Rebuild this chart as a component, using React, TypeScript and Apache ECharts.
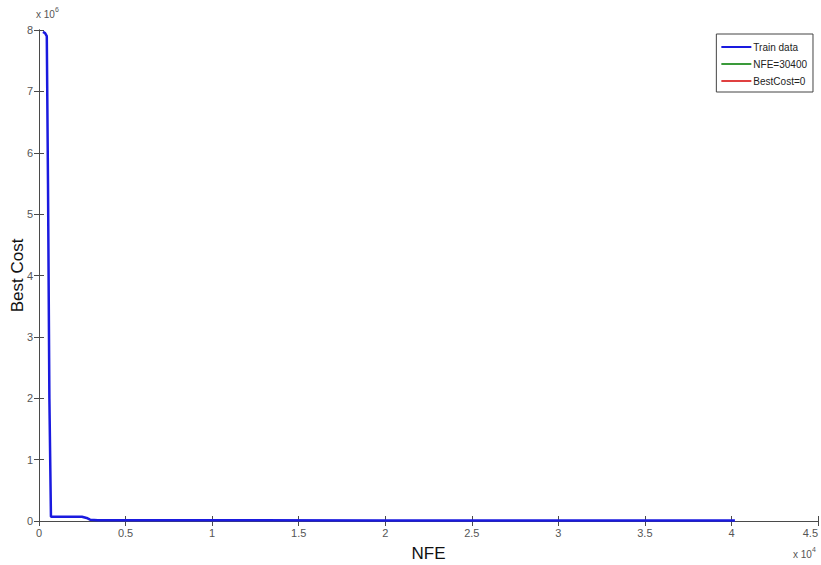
import React, { useEffect, useRef } from "react";
import * as echarts from "echarts";

// Convergence of the best cost against the number of function evaluations
const nfe = [230, 350, 450, 520, 600, 690, 1500, 2480, 2750, 2950, 3400, 5000, 10000, 20000, 30000, 40200];
const bestCost = [7.97e6, 7.95e6, 7.9e6, 5.5e6, 2.0e6, 70000, 70000, 70000, 50000, 22000, 12000, 12000, 11000, 10000, 10000, 10000];

// Reference markers shown in the legend
const nfeMarker = [[30400, 0]];
const bestCostMarker = [[30400, 0]];

const xTicks = [0, 0.5, 1, 1.5, 2, 2.5, 3, 3.5, 4, 4.5];
const yTicks = [0, 1, 2, 3, 4, 5, 6, 7, 8];

const axisColor = "#4a4a4a";
const labelColor = "#555555";
const font = "'Liberation Sans', Arial, sans-serif";

export default function App() {
  const ref = useRef<HTMLDivElement>(null);

  useEffect(() => {
    document.body.style.margin = "0";
    if (!ref.current) return;
    const chart = echarts.init(ref.current, undefined, { renderer: "svg" });

    const xMax = xTicks[xTicks.length - 1] * 1e4;
    const yMax = yTicks[yTicks.length - 1] * 1e6;

    const baseAxis = {
      type: "value" as const,
      min: 0,
      axisLine: { show: true, lineStyle: { color: axisColor, width: 1 } },
      axisTick: { show: true, inside: true, length: 5, lineStyle: { color: axisColor } },
      splitLine: { show: false },
    };

    chart.setOption({
      animation: false,
      backgroundColor: "#ffffff",
      grid: { left: 39, right: 3, top: 30, bottom: 44, containLabel: false, outerBoundsMode: "none" },
      xAxis: [
        {
          ...baseAxis,
          position: "bottom",
          max: xMax,
          interval: 5000,
          axisLabel: {
            color: labelColor,
            fontFamily: font,
            fontSize: 11,
            margin: 6,
            alignMaxLabel: "right",
            formatter: (v: number) => String(v / 1e4),
          },
          name: "NFE",
          nameLocation: "middle",
          nameGap: 24,
          nameTextStyle: { color: "#111", fontFamily: font, fontSize: 17 },
        },
        {
          ...baseAxis,
          position: "top",
          max: xMax,
          interval: 5000,
          axisLabel: { show: false },
        },
      ],
      yAxis: [
        {
          ...baseAxis,
          position: "left",
          max: yMax,
          interval: 1e6,
          axisLabel: {
            color: labelColor,
            fontFamily: font,
            fontSize: 11,
            margin: 6,
            formatter: (v: number) => String(v / 1e6),
          },
          name: "Best Cost",
          nameLocation: "middle",
          nameGap: 13,
          nameMoveOverlap: false,
          nameRotate: 90,
          nameTextStyle: { color: "#111", fontFamily: font, fontSize: 17 },
        },
        {
          ...baseAxis,
          position: "right",
          max: yMax,
          interval: 1e6,
          axisLabel: { show: false },
        },
      ],
      legend: {
        orient: "vertical",
        right: 8,
        top: 34,
        itemWidth: 30,
        itemHeight: 2,
        itemGap: 7,
        padding: [8, 6, 6, 5],
        borderColor: "#444",
        borderWidth: 1,
        backgroundColor: "#fff",
        textStyle: { color: "#222", fontFamily: font, fontSize: 10, padding: [0, 0, 0, -3] },
        data: [
          { name: "Train data", icon: "rect", itemStyle: { color: "#1a1adf" } },
          { name: "NFE=30400", icon: "rect", itemStyle: { color: "#3a9a3a" } },
          { name: "BestCost=0", icon: "rect", itemStyle: { color: "#e04040" } },
        ],
      },
      series: [
        {
          name: "Train data",
          type: "line",
          data: nfe.map((x, i) => [x, bestCost[i]]),
          showSymbol: false,
          symbol: "none",
          lineStyle: { color: "#1a1adf", width: 2.5 },
          itemStyle: { color: "#1a1adf" },
        },
        {
          name: "NFE=30400",
          type: "line",
          data: nfeMarker,
          showSymbol: false,
          symbol: "none",
          lineStyle: { color: "#3a9a3a", width: 1 },
          itemStyle: { color: "#3a9a3a" },
        },
        {
          name: "BestCost=0",
          type: "line",
          data: bestCostMarker,
          showSymbol: false,
          symbol: "none",
          lineStyle: { color: "#e04040", width: 1 },
          itemStyle: { color: "#e04040" },
        },
      ],
      graphic: [
        {
          type: "text",
          left: 36,
          top: 6,
          style: {
            text: "{b|x 10}{s|6}",
            rich: {
              b: { fontFamily: font, fontSize: 10, fill: labelColor, verticalAlign: "bottom" },
              s: { fontFamily: font, fontSize: 7, fill: labelColor, verticalAlign: "top", padding: [0, 0, 6, 0] },
            },
          },
        },
        {
          type: "text",
          left: 793,
          top: 546,
          style: {
            text: "{b|x 10}{s|4}",
            rich: {
              b: { fontFamily: font, fontSize: 10, fill: labelColor, verticalAlign: "bottom" },
              s: { fontFamily: font, fontSize: 7, fill: labelColor, verticalAlign: "top", padding: [0, 0, 6, 0] },
            },
          },
        },
      ],
    });

    return () => chart.dispose();
  }, []);

  return <div ref={ref} style={{ width: 821, height: 565 }} />;
}
